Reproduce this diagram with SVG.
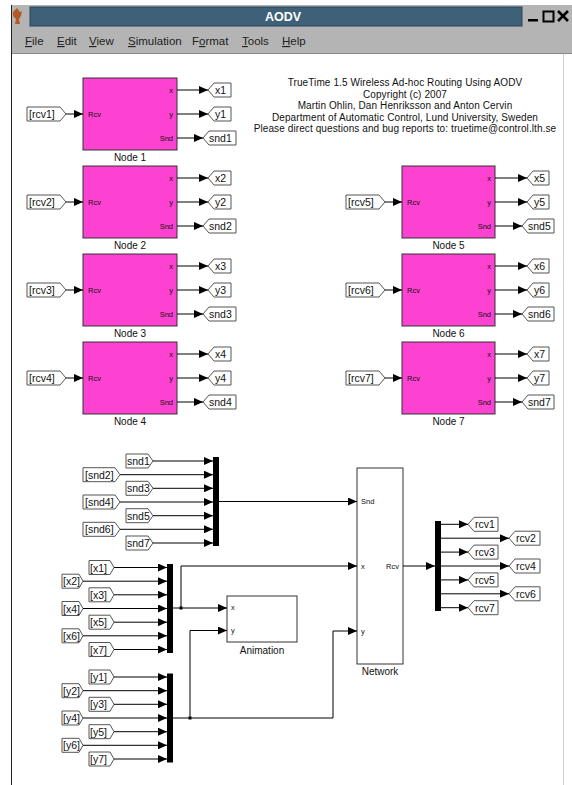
<svg xmlns="http://www.w3.org/2000/svg" width="572" height="785" viewBox="0 0 572 785">
<style>
text{font-family:"Liberation Sans",Arial,sans-serif;fill:#111}
.blk{fill:#fd42d2;stroke:#333;stroke-width:1}
.wblk{fill:#fff;stroke:#333;stroke-width:1}
.tag{fill:#fff;stroke:#555;stroke-width:1}
.tt{font-size:10.5px}
.pl{font-size:7.5px}
.nl{font-size:10px;text-anchor:middle}
.bar{fill:#000}
.w{fill:none;stroke:#000;stroke-width:1}
.menu{font-size:11.5px}
.info{font-size:10px;letter-spacing:0.1px;text-anchor:middle}
</style>
<defs>
<marker id="ah" markerUnits="userSpaceOnUse" markerWidth="9" markerHeight="8" refX="9" refY="4" orient="auto">
<path d="M0,0 L9,4 L0,8 Z" fill="#000"/>
</marker>
</defs>
<rect x="0" y="0" width="572" height="785" fill="#fff"/>
<!-- window chrome -->
<g id="chrome">
<rect x="11" y="5" width="561" height="49" fill="#b4b4b4"/>
<line x1="11" y1="53.5" x2="572" y2="53.5" stroke="#888"/>
<rect x="30" y="7" width="492" height="19" fill="#3e6179" stroke="#2a4456"/>
<text x="283" y="21" font-size="12.5px" font-weight="bold" text-anchor="middle" style="fill:#fff">AODV</text>
<path d="M17,8 L20,12 L22,11 L21,16 L19,19 L20,24 L15,24 L16,19 L13,16 L13,12 Z" fill="#b45a28"/>
<rect x="528" y="19" width="10" height="2.5" fill="#000"/>
<rect x="543.5" y="11.5" width="10" height="10" fill="none" stroke="#000" stroke-width="2"/>
<path d="M558,11 L568,21 M568,11 L558,21" stroke="#000" stroke-width="2.6"/>
<text class="menu" y="45" style="fill:#222"><tspan x="25"><tspan text-decoration="underline">F</tspan>ile</tspan><tspan x="57"><tspan text-decoration="underline">E</tspan>dit</tspan><tspan x="89"><tspan text-decoration="underline">V</tspan>iew</tspan><tspan x="128"><tspan text-decoration="underline">S</tspan>imulation</tspan><tspan x="192">F<tspan text-decoration="underline">o</tspan>rmat</tspan><tspan x="242"><tspan text-decoration="underline">T</tspan>ools</tspan><tspan x="282"><tspan text-decoration="underline">H</tspan>elp</tspan></text>
<line x1="11.5" y1="5" x2="11.5" y2="785" stroke="#222"/>
<line x1="563.5" y1="54" x2="563.5" y2="785" stroke="#d0d0d0"/>
</g>
<g id="info">
<text class="info" x="405" y="86">TrueTime 1.5  Wireless Ad-hoc Routing Using AODV</text>
<text class="info" x="405" y="97.5">Copyright (c) 2007</text>
<text class="info" x="405" y="109">Martin Ohlin, Dan Henriksson and Anton Cervin</text>
<text class="info" x="405" y="120.5">Department of Automatic Control, Lund University, Sweden</text>
<text class="info" x="405" y="132">Please direct questions and bug reports to:  truetime@control.lth.se</text>
</g>
<!-- nodes -->
<g id="node1"><rect class="blk" x="83" y="78" width="94" height="72"/><text class="pl" x="88" y="116.5">Rcv</text><text class="pl" x="173" y="92.5" text-anchor="end">x</text><text class="pl" x="173" y="116.5" text-anchor="end">y</text><text class="pl" x="173" y="140.5" text-anchor="end">Snd</text><text class="nl" x="130" y="161">Node 1</text></g>
<g id="node2"><rect class="blk" x="83" y="166" width="94" height="72"/><text class="pl" x="88" y="204.5">Rcv</text><text class="pl" x="173" y="180.5" text-anchor="end">x</text><text class="pl" x="173" y="204.5" text-anchor="end">y</text><text class="pl" x="173" y="228.5" text-anchor="end">Snd</text><text class="nl" x="130" y="249">Node 2</text></g>
<g id="node3"><rect class="blk" x="83" y="254" width="94" height="72"/><text class="pl" x="88" y="292.5">Rcv</text><text class="pl" x="173" y="268.5" text-anchor="end">x</text><text class="pl" x="173" y="292.5" text-anchor="end">y</text><text class="pl" x="173" y="316.5" text-anchor="end">Snd</text><text class="nl" x="130" y="337">Node 3</text></g>
<g id="node4"><rect class="blk" x="83" y="342" width="94" height="72"/><text class="pl" x="88" y="380.5">Rcv</text><text class="pl" x="173" y="356.5" text-anchor="end">x</text><text class="pl" x="173" y="380.5" text-anchor="end">y</text><text class="pl" x="173" y="404.5" text-anchor="end">Snd</text><text class="nl" x="130" y="425">Node 4</text></g>
<g id="node5"><rect class="blk" x="402" y="166" width="93" height="72"/><text class="pl" x="407" y="204.5">Rcv</text><text class="pl" x="491" y="180.5" text-anchor="end">x</text><text class="pl" x="491" y="204.5" text-anchor="end">y</text><text class="pl" x="491" y="228.5" text-anchor="end">Snd</text><text class="nl" x="448.5" y="249">Node 5</text></g>
<g id="node6"><rect class="blk" x="402" y="254" width="93" height="72"/><text class="pl" x="407" y="292.5">Rcv</text><text class="pl" x="491" y="268.5" text-anchor="end">x</text><text class="pl" x="491" y="292.5" text-anchor="end">y</text><text class="pl" x="491" y="316.5" text-anchor="end">Snd</text><text class="nl" x="448.5" y="337">Node 6</text></g>
<g id="node7"><rect class="blk" x="402" y="342" width="93" height="72"/><text class="pl" x="407" y="380.5">Rcv</text><text class="pl" x="491" y="356.5" text-anchor="end">x</text><text class="pl" x="491" y="380.5" text-anchor="end">y</text><text class="pl" x="491" y="404.5" text-anchor="end">Snd</text><text class="nl" x="448.5" y="425">Node 7</text></g>
<!-- rcv From tags for nodes -->
<g id="from_rcv1"><polygon class="tag" points="27,107 60,107 66,114 60,121 27,121"/><text class="tt" x="29" y="118">[rcv1]</text></g>
<g id="from_rcv2"><polygon class="tag" points="27,195 60,195 66,202 60,209 27,209"/><text class="tt" x="29" y="206">[rcv2]</text></g>
<g id="from_rcv3"><polygon class="tag" points="27,283 60,283 66,290 60,297 27,297"/><text class="tt" x="29" y="294">[rcv3]</text></g>
<g id="from_rcv4"><polygon class="tag" points="27,371 60,371 66,378 60,385 27,385"/><text class="tt" x="29" y="382">[rcv4]</text></g>
<g id="from_rcv5"><polygon class="tag" points="346,195 379,195 385,202 379,209 346,209"/><text class="tt" x="348" y="206">[rcv5]</text></g>
<g id="from_rcv6"><polygon class="tag" points="346,283 379,283 385,290 379,297 346,297"/><text class="tt" x="348" y="294">[rcv6]</text></g>
<g id="from_rcv7"><polygon class="tag" points="346,371 379,371 385,378 379,385 346,385"/><text class="tt" x="348" y="382">[rcv7]</text></g>
<!-- node output goto tags -->
<g id="goto_node_left">
<polygon class="tag" points="208,90 214,83 231,83 231,97 214,97"/><text class="tt" x="215" y="94">x1</text>
<polygon class="tag" points="208,114 214,107 231,107 231,121 214,121"/><text class="tt" x="215" y="118">y1</text>
<polygon class="tag" points="203,138 209,131 236,131 236,145 209,145"/><text class="tt" x="209" y="142">snd1</text>
<polygon class="tag" points="208,178 214,171 231,171 231,185 214,185"/><text class="tt" x="215" y="182">x2</text>
<polygon class="tag" points="208,202 214,195 231,195 231,209 214,209"/><text class="tt" x="215" y="206">y2</text>
<polygon class="tag" points="203,226 209,219 236,219 236,233 209,233"/><text class="tt" x="209" y="230">snd2</text>
<polygon class="tag" points="208,266 214,259 231,259 231,273 214,273"/><text class="tt" x="215" y="270">x3</text>
<polygon class="tag" points="208,290 214,283 231,283 231,297 214,297"/><text class="tt" x="215" y="294">y3</text>
<polygon class="tag" points="203,314 209,307 236,307 236,321 209,321"/><text class="tt" x="209" y="318">snd3</text>
<polygon class="tag" points="208,354 214,347 231,347 231,361 214,361"/><text class="tt" x="215" y="358">x4</text>
<polygon class="tag" points="208,378 214,371 231,371 231,385 214,385"/><text class="tt" x="215" y="382">y4</text>
<polygon class="tag" points="203,402 209,395 236,395 236,409 209,409"/><text class="tt" x="209" y="406">snd4</text>
</g>
<g id="goto_node_right">
<polygon class="tag" points="527,178 533,171 549,171 549,185 533,185"/><text class="tt" x="534" y="182">x5</text>
<polygon class="tag" points="527,202 533,195 549,195 549,209 533,209"/><text class="tt" x="534" y="206">y5</text>
<polygon class="tag" points="522,226 528,219 554,219 554,233 528,233"/><text class="tt" x="528" y="230">snd5</text>
<polygon class="tag" points="527,266 533,259 549,259 549,273 533,273"/><text class="tt" x="534" y="270">x6</text>
<polygon class="tag" points="527,290 533,283 549,283 549,297 533,297"/><text class="tt" x="534" y="294">y6</text>
<polygon class="tag" points="522,314 528,307 554,307 554,321 528,321"/><text class="tt" x="528" y="318">snd6</text>
<polygon class="tag" points="527,354 533,347 549,347 549,361 533,361"/><text class="tt" x="534" y="358">x7</text>
<polygon class="tag" points="527,378 533,371 549,371 549,385 533,385"/><text class="tt" x="534" y="382">y7</text>
<polygon class="tag" points="522,402 528,395 554,395 554,409 528,409"/><text class="tt" x="528" y="406">snd7</text>
</g>
<!-- lower part: from tags -->
<g id="from_snd">
<polygon class="tag" points="126,454 148,454 153,461 148,468 126,468"/><text class="tt" x="127" y="465">snd1</text>
<polygon class="tag" points="83,467.7 115,467.7 120,474.7 115,481.7 83,481.7"/><text class="tt" x="85" y="478.7">[snd2]</text>
<polygon class="tag" points="126,481.3 148,481.3 153,488.3 148,495.3 126,495.3"/><text class="tt" x="127" y="492.3">snd3</text>
<polygon class="tag" points="83,495 115,495 120,502 115,509 83,509"/><text class="tt" x="85" y="506">[snd4]</text>
<polygon class="tag" points="126,508.7 148,508.7 153,515.7 148,522.7 126,522.7"/><text class="tt" x="127" y="519.7">snd5</text>
<polygon class="tag" points="83,522.3 115,522.3 120,529.3 115,536.3 83,536.3"/><text class="tt" x="85" y="533.3">[snd6]</text>
<polygon class="tag" points="126,536 148,536 153,543 148,550 126,550"/><text class="tt" x="127" y="547">snd7</text>
</g>
<g id="from_x">
<polygon class="tag" points="89,560.5 110,560.5 114,567.5 110,574.5 89,574.5"/><text class="tt" x="90" y="571.5">[x1]</text>
<polygon class="tag" points="62,574.2 79,574.2 83,581.2 79,588.2 62,588.2"/><text class="tt" x="63" y="585.2">[x2]</text>
<polygon class="tag" points="89,587.8 110,587.8 114,594.8 110,601.8 89,601.8"/><text class="tt" x="90" y="598.8">[x3]</text>
<polygon class="tag" points="62,601.5 79,601.5 83,608.5 79,615.5 62,615.5"/><text class="tt" x="63" y="612.5">[x4]</text>
<polygon class="tag" points="89,615.2 110,615.2 114,622.2 110,629.2 89,629.2"/><text class="tt" x="90" y="626.2">[x5]</text>
<polygon class="tag" points="62,628.8 79,628.8 83,635.8 79,642.8 62,642.8"/><text class="tt" x="63" y="639.8">[x6]</text>
<polygon class="tag" points="89,642.5 110,642.5 114,649.5 110,656.5 89,656.5"/><text class="tt" x="90" y="653.5">[x7]</text>
</g>
<g id="from_y">
<polygon class="tag" points="89,670 110,670 114,677 110,684 89,684"/><text class="tt" x="90" y="681">[y1]</text>
<polygon class="tag" points="62,683.7 79,683.7 83,690.7 79,697.7 62,697.7"/><text class="tt" x="63" y="694.7">[y2]</text>
<polygon class="tag" points="89,697.3 110,697.3 114,704.3 110,711.3 89,711.3"/><text class="tt" x="90" y="708.3">[y3]</text>
<polygon class="tag" points="62,711 79,711 83,718 79,725 62,725"/><text class="tt" x="63" y="722">[y4]</text>
<polygon class="tag" points="89,724.7 110,724.7 114,731.7 110,738.7 89,738.7"/><text class="tt" x="90" y="735.7">[y5]</text>
<polygon class="tag" points="62,738.3 79,738.3 83,745.3 79,752.3 62,752.3"/><text class="tt" x="63" y="749.3">[y6]</text>
<polygon class="tag" points="89,752 110,752 114,759 110,766 89,766"/><text class="tt" x="90" y="763">[y7]</text>
</g>
<g id="mux_snd"><rect class="bar" x="213" y="457" width="6" height="89"/></g>
<g id="mux_x"><rect class="bar" x="167" y="564" width="6" height="89"/></g>
<g id="mux_y"><rect class="bar" x="167" y="673.5" width="6" height="89"/></g>
<g id="demux_rcv"><rect class="bar" x="435" y="521" width="6" height="90"/></g>
<g id="network"><rect class="wblk" x="357" y="468" width="46" height="196"/><text class="pl" x="361" y="503.5">Snd</text><text class="pl" x="361" y="568.5">x</text><text class="pl" x="361" y="633.5">y</text><text class="pl" x="399" y="568.5" text-anchor="end">Rcv</text><text class="nl" x="380" y="675">Network</text></g>
<g id="animation"><rect class="wblk" x="227" y="596" width="70" height="46"/><text class="pl" x="231" y="610">x</text><text class="pl" x="231" y="633">y</text><text class="nl" x="262" y="654">Animation</text></g>
<!-- goto rcv tags -->
<g id="goto_rcv">
<polygon class="tag" points="468,524.3 474,517.3 498,517.3 498,531.3 474,531.3"/><text class="tt" x="475" y="528.3">rcv1</text>
<polygon class="tag" points="509,538.2 515,531.2 540,531.2 540,545.2 515,545.2"/><text class="tt" x="516" y="542.2">rcv2</text>
<polygon class="tag" points="468,552.1 474,545.1 498,545.1 498,559.1 474,559.1"/><text class="tt" x="475" y="556.1">rcv3</text>
<polygon class="tag" points="509,566 515,559 540,559 540,573 515,573"/><text class="tt" x="516" y="570">rcv4</text>
<polygon class="tag" points="468,579.9 474,572.9 498,572.9 498,586.9 474,586.9"/><text class="tt" x="475" y="583.9">rcv5</text>
<polygon class="tag" points="509,593.8 515,586.8 540,586.8 540,600.8 515,600.8"/><text class="tt" x="516" y="597.8">rcv6</text>
<polygon class="tag" points="468,607.7 474,600.7 498,600.7 498,614.7 474,614.7"/><text class="tt" x="475" y="611.7">rcv7</text>
</g>
<g id="connectors" class="w" marker-end="url(#ah)">
<!-- node inputs -->
<path d="M66,114H83"/><path d="M66,202H83"/><path d="M66,290H83"/><path d="M66,378H83"/>
<path d="M385,202H402"/><path d="M385,290H402"/><path d="M385,378H402"/>
<!-- node outputs left -->
<path d="M177,90H208"/><path d="M177,114H208"/><path d="M177,138H203"/>
<path d="M177,178H208"/><path d="M177,202H208"/><path d="M177,226H203"/>
<path d="M177,266H208"/><path d="M177,290H208"/><path d="M177,314H203"/>
<path d="M177,354H208"/><path d="M177,378H208"/><path d="M177,402H203"/>
<!-- node outputs right -->
<path d="M495,178H527"/><path d="M495,202H527"/><path d="M495,226H522"/>
<path d="M495,266H527"/><path d="M495,290H527"/><path d="M495,314H522"/>
<path d="M495,354H527"/><path d="M495,378H527"/><path d="M495,402H522"/>
<!-- snd mux inputs -->
<path d="M153,461H213"/><path d="M120,474.7H213"/><path d="M153,488.3H213"/><path d="M120,502H213"/><path d="M153,515.7H213"/><path d="M120,529.3H213"/><path d="M153,543H213"/>
<path d="M219,501.5H357"/>
<!-- x mux inputs -->
<path d="M114,567.5H167"/><path d="M83,581.2H167"/><path d="M114,594.8H167"/><path d="M83,608.5H167"/><path d="M114,622.2H167"/><path d="M83,635.8H167"/><path d="M114,649.5H167"/>
<path d="M173,608H227"/>
<path d="M181,608V566H357"/>
<!-- y mux inputs -->
<path d="M114,677H167"/><path d="M83,690.7H167"/><path d="M114,704.3H167"/><path d="M83,718H167"/><path d="M114,731.7H167"/><path d="M83,745.3H167"/><path d="M114,759H167"/>
<path d="M173,718H333V631H357"/>
<path d="M190,718V630.5H227"/>
<!-- network to demux -->
<path d="M403,566H435"/>
<path d="M441,524.3H468"/><path d="M441,538.2H509"/><path d="M441,552.1H468"/><path d="M441,566H509"/><path d="M441,579.9H468"/><path d="M441,593.8H509"/><path d="M441,607.7H468"/>
</g>
<g id="junctions" fill="#000"><rect x="179.5" y="606.5" width="3" height="3"/><rect x="188.5" y="716.5" width="3" height="3"/></g>
</svg>
